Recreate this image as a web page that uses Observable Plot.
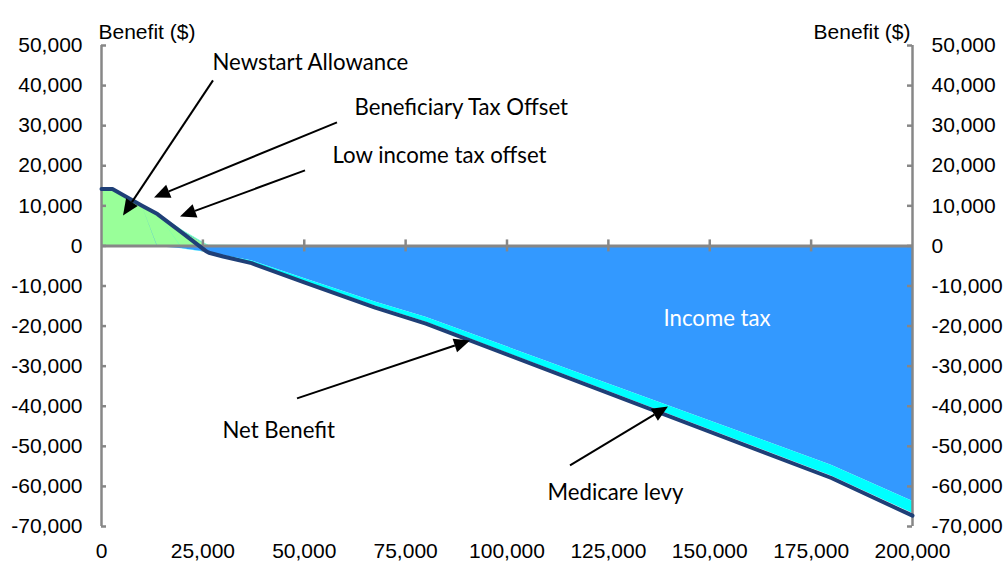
<!DOCTYPE html>
<html><head><meta charset="utf-8">
<script src="https://cdn.jsdelivr.net/npm/d3@7"></script>
<script src="https://cdn.jsdelivr.net/npm/@observablehq/plot@0.6"></script>
<style>
html,body{margin:0;padding:0;background:#fff;}
#chart{width:1005px;height:563px;overflow:hidden;}
</style></head><body><div id="chart"></div>
<script>
// Private income ($)
const income    = [0, 2700, 10000, 13800, 20000, 25700, 26500, 30000, 37000, 50000, 67500, 80000, 180000, 200000];
const newstart  = [14100, 14100, 9950, 7800, 3500, 200, 0, 0, 0, 0, 0, 0, 0, 0];
const bto       = [0, 0, 100, 200, 200, 150, 0, 0, 0, 0, 0, 0, 0, 0];
const lito      = [0, 0, 0, 150, 200, 200, 150, 150, 100, 50, 0, 0, 0, 0];
const incomeTax = [0, 0, 0, -200, -700, -1500, -1700, -2400, -3700, -8100, -14000, -17800, -54700, -63700];
const medicare  = [0, 0, 0, 0, -50, -100, -100, -300, -550, -750, -1000, -1200, -2700, -3000];
const netBenefit= [14200, 14200, 10050, 7950, 3200, -1250, -1700, -2650, -4300, -9100, -15400, -19400, -57900, -67300];

const seriesNames  = ["Newstart Allowance", "Beneficiary Tax Offset", "Low income tax offset", "Income tax", "Medicare levy"];
const seriesColors = ["#99FF99", "#33CC99", "#66FFCC", "#3399FF", "#00FFFF"];
const seriesValues = [newstart, bto, lito, incomeTax, medicare];

const xTicks = [0, 25000, 50000, 75000, 100000, 125000, 150000, 175000, 200000];
const yTicks = [50000, 40000, 30000, 20000, 10000, 0, -10000, -20000, -30000, -40000, -50000, -60000, -70000];

// annotation labels (text start position in data units)
const labels = [
  {text: "Newstart Allowance",    x: 27370,  y: 45650,  color: "#000"},
  {text: "Beneficiary Tax Offset",x: 62390,  y: 34430,  color: "#000"},
  {text: "Low income tax offset", x: 56970,  y: 22450,  color: "#000"},
  {text: "Income tax",            x: 138600, y: -18210, color: "#fff"},
  {text: "Net Benefit",           x: 29840,  y: -46150, color: "#000"},
  {text: "Medicare levy",         x: 109990, y: -61620, color: "#000"}
];
// arrows: from (x1,y1) to tip (x2,y2)
const arrows = [
  {x1: 27620,  y1: 41170,  x2: 5430,   y2: 7480},
  {x1: 58200,  y1: 30690,  x2: 13070,  y2: 11980},
  {x1: 50310,  y1: 18710,  x2: 19480,  y2: 7240},
  {x1: 48340,  y1: -38170, x2: 91000,  y2: -23700},
  {x1: 115660, y1: -54890, x2: 139830, y2: -40170}
];

const stackData = [];
seriesNames.forEach((s, k) => income.forEach((x, i) => stackData.push({series: s, income: x, value: seriesValues[k][i]})));
const netData = income.map((x, i) => ({income: x, net: netBenefit[i]}));

const fmt = d => d.toLocaleString("en-US");
const gray = "#878787";
const axisFont = "'Liberation Sans', Arial, sans-serif";
const annFont = "Lato, 'Open Sans', sans-serif";

function arrowRender(index, scales, values) {
  const g = d3.create("svg:g");
  for (const i of index) {
    const x1 = values.x1[i], y1 = values.y1[i], x2 = values.x2[i], y2 = values.y2[i];
    const a = Math.atan2(y2 - y1, x2 - x1);
    const L = 16, W = 7;
    const bx = x2 - L * Math.cos(a), by = y2 - L * Math.sin(a);
    g.append("line").attr("x1", x1).attr("y1", y1).attr("x2", bx).attr("y2", by)
      .attr("stroke", "#000").attr("stroke-width", 2);
    g.append("path")
      .attr("d", `M${x2},${y2}L${bx + W * Math.sin(a)},${by - W * Math.cos(a)}L${bx - W * Math.sin(a)},${by + W * Math.cos(a)}Z`)
      .attr("fill", "#000");
  }
  return g.node();
}

const chart = Plot.plot({
  width: 1005,
  height: 563,
  marginLeft: 101,
  marginRight: 93,
  marginTop: 45,
  marginBottom: 37,
  style: {fontFamily: axisFont, fontSize: "21px", color: "#000", background: "#fff"},
  x: {domain: [0, 200000], axis: null},
  y: {domain: [-70000, 50000], axis: null},
  color: {domain: seriesNames, range: seriesColors},
  marks: [
    Plot.areaY(stackData, {x: "income", y: "value", z: "series", fill: "series", order: null}),
    Plot.ruleY([0], {stroke: gray, strokeWidth: 3}),
    Plot.ruleX(xTicks.slice(1, -1), {y1: 0, y2: 0, insetTop: -6, insetBottom: -6, stroke: gray, strokeWidth: 2.5}),
    Plot.ruleX([0, 200000], {stroke: gray, strokeWidth: 2.5}),
    Plot.tickY(yTicks, {y: d => d, stroke: gray, strokeWidth: 2.5, insetRight: 806}),
    Plot.tickY(yTicks, {y: d => d, stroke: gray, strokeWidth: 2.5, insetLeft: 806}),
    Plot.lineY(netData, {x: "income", y: "net", stroke: "#1F3F77", strokeWidth: 4, strokeLinejoin: "round"}),
    Plot.axisY(yTicks, {anchor: "left", tickSize: 0, tickPadding: 19, tickFormat: fmt, fontSize: 21}),
    Plot.axisY(yTicks, {anchor: "right", tickSize: 0, tickPadding: 19, tickFormat: fmt, fontSize: 21}),
    Plot.axisX(xTicks, {anchor: "bottom", tickSize: 0, tickPadding: 17, tickFormat: fmt, fontSize: 21}),
    Plot.text(["Benefit ($)"], {frameAnchor: "top-left", textAnchor: "start", dx: -3, dy: -21, fontSize: 21, fontFamily: axisFont}),
    Plot.text(["Benefit ($)"], {frameAnchor: "top-right", textAnchor: "end", dx: -2, dy: -21, fontSize: 21, fontFamily: axisFont}),
    Plot.link(arrows, {x1: "x1", y1: "y1", x2: "x2", y2: "y2", render: arrowRender}),
    Plot.text(labels, {x: "x", y: "y", text: "text", fill: "color", textAnchor: "start", fontSize: 22.2, fontFamily: annFont})
  ]
});
document.getElementById("chart").appendChild(chart);
</script>
</body></html>
